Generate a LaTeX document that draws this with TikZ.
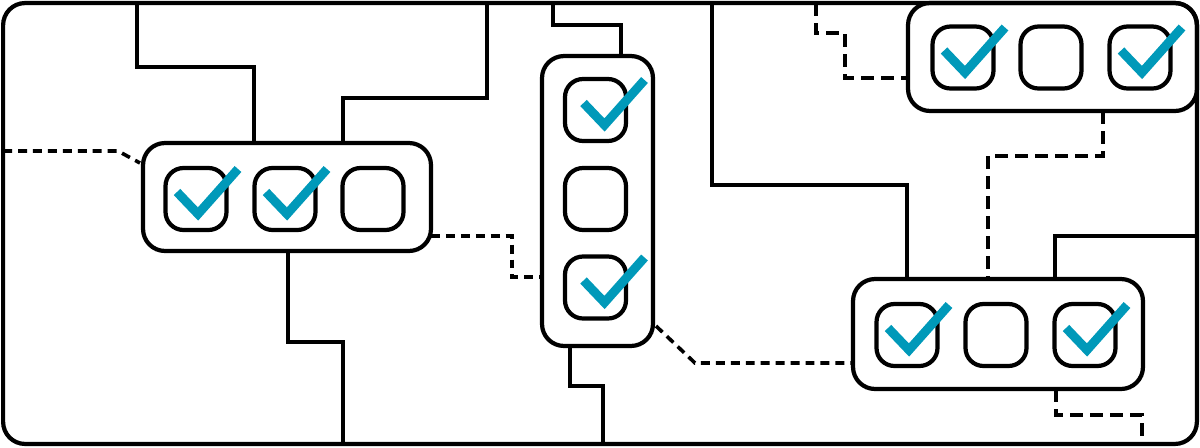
\documentclass[tikz,border=0pt]{standalone}
\usetikzlibrary{calc}
\definecolor{tick}{HTML}{0099B9}
\begin{document}
\begin{tikzpicture}[x=0.02cm,y=-0.02cm,
  grp/.style={draw,line width=2.4pt,rounded corners=0.44cm,inner sep=0pt,outer sep=0pt},
  cell/.style={draw,line width=2.4pt,rounded corners=0.36cm,inner sep=0pt,outer sep=0pt,minimum width=1.22cm,minimum height=1.24cm},
  wire/.style={line width=2.05pt},
  dwire/.style={line width=2.05pt,dash pattern=on 5.1pt off 3.4pt},
  ldwire/.style={line width=2.05pt,dash pattern=on 7.4pt off 4pt},
  tickmark/.style={draw=tick,line width=5.1pt,line join=miter,line cap=butt}]
\useasboundingbox (0,0) rectangle (1200,447);
% frame and groups
\node[grp,minimum width=23.88cm,minimum height=8.82cm] (frame) at (600,223.5) {};
\node[grp,minimum width=5.76cm,minimum height=2.16cm] (lb) at (287,197) {};
\node[grp,minimum width=2.22cm,minimum height=5.8cm] (mb) at (597.5,201) {};
\node[grp,minimum width=5.78cm,minimum height=2.16cm] (tr) at (1052.5,57) {};
\node[grp,minimum width=5.8cm,minimum height=2.2cm] (br) at (998,334) {};
% cells
\node[cell] (l1) at (196,199) {};
\node[cell] (l2) at (285,199) {};
\node[cell] (l3) at (373,199) {};
\node[cell] (m1) at (595.5,110) {};
\node[cell] (m2) at (595.5,199) {};
\node[cell] (m3) at (595.5,287.5) {};
\node[cell] (t1) at (963,57.5) {};
\node[cell] (t2) at (1051,57.5) {};
\node[cell] (t3) at (1140,57.5) {};
\node[cell] (b1) at (907,335) {};
\node[cell] (b2) at (996,335) {};
\node[cell] (b3) at (1085,335) {};
% check marks
\foreach \c in {l1,l2,t1,t3,b1,b3}
  \draw[tickmark] ($(\c)+(-19,-7)$) -- ++(21,22) -- ++(40,-45);
\foreach \c in {m1,m3}
  \draw[tickmark] ($(\c)+(-12,-7)$) -- ++(21,22) -- ++(40,-45);
% solid wires
\draw[wire] (137,0 |- frame.north) -- (137,67) -- (254,67) -- (254,0 |- lb.north);
\draw[wire] (343,0 |- lb.north) -- (343,98) -- (487,98) -- (487,0 |- frame.north);
\draw[wire] (288,0 |- lb.south) -- (288,342) -- (343,342) -- (343,0 |- frame.south);
\draw[wire] (553,0 |- frame.north) -- (553,25) -- (621,25) -- (621,0 |- mb.north);
\draw[wire] (570,0 |- mb.south) -- (570,386) -- (603,386) -- (603,0 |- frame.south);
\draw[wire] (712,0 |- frame.north) -- (712,185) -- (907,185) -- (907,0 |- br.north);
\draw[wire] (1055,0 |- br.north) -- (1055,236) -- (frame.east |- 0,236);
% dashed wires
\draw[dwire] (frame.west |- 0,151) -- (118,151) -- (140,163);
\draw[dwire] (lb.east |- 0,236) -- (512,236) -- (512,277) -- (mb.west |- 0,277);
\draw[dwire] (656,326) -- (695,363) -- (br.west |- 0,363);
\draw[ldwire] (816,0 |- frame.north) -- (816,33) -- (845,33) -- (845,78) -- (tr.west |- 0,78);
\draw[ldwire] (1103,0 |- tr.south) -- (1103,156) -- (988,156) -- (988,0 |- br.north);
\draw[ldwire] (1056,0 |- br.south) -- (1056,415) -- (1142,415) -- (1142,0 |- frame.south);
\end{tikzpicture}
\end{document}
